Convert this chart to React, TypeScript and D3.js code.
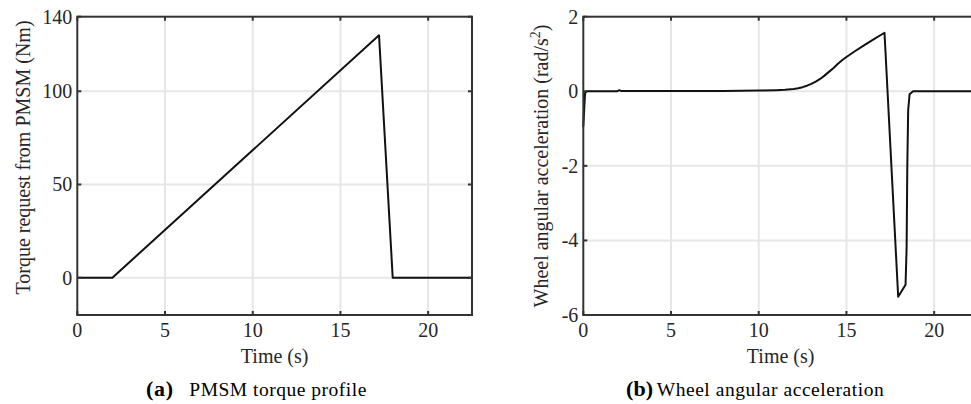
import * as d3 from 'd3'

const torqueTime = [0, 2, 17.2, 17.98, 22.5]
const torqueValue = [0, 0, 130, 0, 0]

const accelTime = [
  0, 0.1, 0.2, 1.95, 2.05, 2.15, 4, 8, 10, 11, 11.5, 12, 12.25, 12.5, 12.75,
  13, 13.25, 13.5, 13.75, 14, 14.25, 14.5, 14.75, 15, 15.25, 15.5, 16, 16.5,
  17.17, 17.95, 18.37, 18.43, 18.47, 18.52, 18.6, 18.8, 22.5,
]
const accelValue = [
  -0.95, -0.05, 0, 0, 0.03, 0.01, 0.01, 0.01, 0.02, 0.03, 0.04, 0.06, 0.08,
  0.11, 0.15, 0.2, 0.26, 0.33, 0.42, 0.52, 0.62, 0.73, 0.83, 0.92, 1.0, 1.08,
  1.23, 1.38, 1.57, -5.51, -5.19, -4.2, -2.0, -0.5, -0.08, 0, 0,
]

const xTicks = [0, 5, 10, 15, 20]
const torqueTicks = [0, 50, 100, 140]
const accelTicks = [-6, -4, -2, 0, 2]

const FONT = '"Liberation Serif", "Times New Roman", serif'
const AXIS = '#333333'
const TXT = '#262626'
const GRID = '#e6e6e6'
const TOP = 16.7
const BOTTOM = 315

type PanelProps = {
  left: number
  right: number
  yDomain: [number, number]
  yTicks: number[]
  times: number[]
  values: number[]
}

const Panel = ({ left, right, yDomain, yTicks, times, values }: PanelProps) => {
  const x = d3.scaleLinear().domain([0, 22.5]).range([left, right])
  const y = d3.scaleLinear().domain(yDomain).range([BOTTOM, TOP])
  const pts = times.map((t, i) => [t, values[i]] as [number, number])
  const path = d3
    .line<[number, number]>()
    .x((d) => x(d[0]))
    .y((d) => y(d[1]))(pts)

  return (
    <g>
      {xTicks
        .filter((t) => t > 0)
        .map((t) => (
          <line key={'gx' + t} x1={x(t)} x2={x(t)} y1={TOP} y2={BOTTOM} stroke={GRID} strokeWidth={2} />
        ))}
      {yTicks
        .filter((t) => t !== yDomain[0] && t !== yDomain[1])
        .map((t) => (
          <line key={'gy' + t} x1={left} x2={right} y1={y(t)} y2={y(t)} stroke={GRID} strokeWidth={2} />
        ))}
      <path d={path ?? ''} fill="none" stroke="#111" strokeWidth={2} strokeLinejoin="round" />
      <rect x={left} y={TOP} width={right - left} height={BOTTOM - TOP} fill="none" stroke={AXIS} strokeWidth={2} />
      {xTicks.map((t) => (
        <g key={'tx' + t}>
          <line x1={x(t)} x2={x(t)} y1={BOTTOM} y2={BOTTOM - 4} stroke={AXIS} strokeWidth={2} />
          <line x1={x(t)} x2={x(t)} y1={TOP} y2={TOP + 4} stroke={AXIS} strokeWidth={2} />
          <text x={x(t)} y={BOTTOM + 21.7} textAnchor="middle" fontSize={20} fill={TXT}>
            {t}
          </text>
        </g>
      ))}
      {yTicks.map((t) => (
        <g key={'ty' + t}>
          <line x1={left} x2={left + 4} y1={y(t)} y2={y(t)} stroke={AXIS} strokeWidth={2} />
          <line x1={right} x2={right - 4} y1={y(t)} y2={y(t)} stroke={AXIS} strokeWidth={2} />
          <text x={left - 5} y={y(t) + 7} textAnchor="end" fontSize={20} fill={TXT}>
            {t}
          </text>
        </g>
      ))}
      <text x={(left + right) / 2} y={363} textAnchor="middle" fontSize={20} fill={TXT}>
        Time (s)
      </text>
    </g>
  )
}

export default function App() {
  return (
    <>
      <style>{`body{margin:0;overflow:hidden}`}</style>
      <svg width={971} height={404} style={{ display: 'block', fontFamily: FONT }}>
        <rect width={971} height={404} fill="#fff" />
        <Panel left={77.3} right={472} yDomain={[-20, 140]} yTicks={torqueTicks} times={torqueTime} values={torqueValue} />
        <Panel left={583.3} right={978} yDomain={[-6, 2]} yTicks={accelTicks} times={accelTime} values={accelValue} />

        <text transform="translate(30,157.5) rotate(-90)" textAnchor="middle" fontSize={20} fill={TXT}>
          Torque request from PMSM (Nm)
        </text>
        <text transform="translate(548,166) rotate(-90)" textAnchor="middle" fontSize={20} fill={TXT}>
          Wheel angular acceleration (rad/s
          <tspan dy={-8} fontSize={14}>2</tspan>
          <tspan dy={8}>)</tspan>
        </text>

        <text x={146} y={396} fontSize={22} fontWeight="bold" fill="#000" textLength={27} lengthAdjust="spacing">
          (a)
        </text>
        <text x={189.3} y={396} fontSize={19.5} fill="#000" textLength={177} lengthAdjust="spacing">
          PMSM torque profile
        </text>
        <text x={626} y={396} fontSize={22} fontWeight="bold" fill="#000" textLength={27} lengthAdjust="spacing">
          (b)
        </text>
        <text x={656.7} y={396} fontSize={19.5} fill="#000" textLength={227} lengthAdjust="spacing">
          Wheel angular acceleration
        </text>
      </svg>
    </>
  )
}
